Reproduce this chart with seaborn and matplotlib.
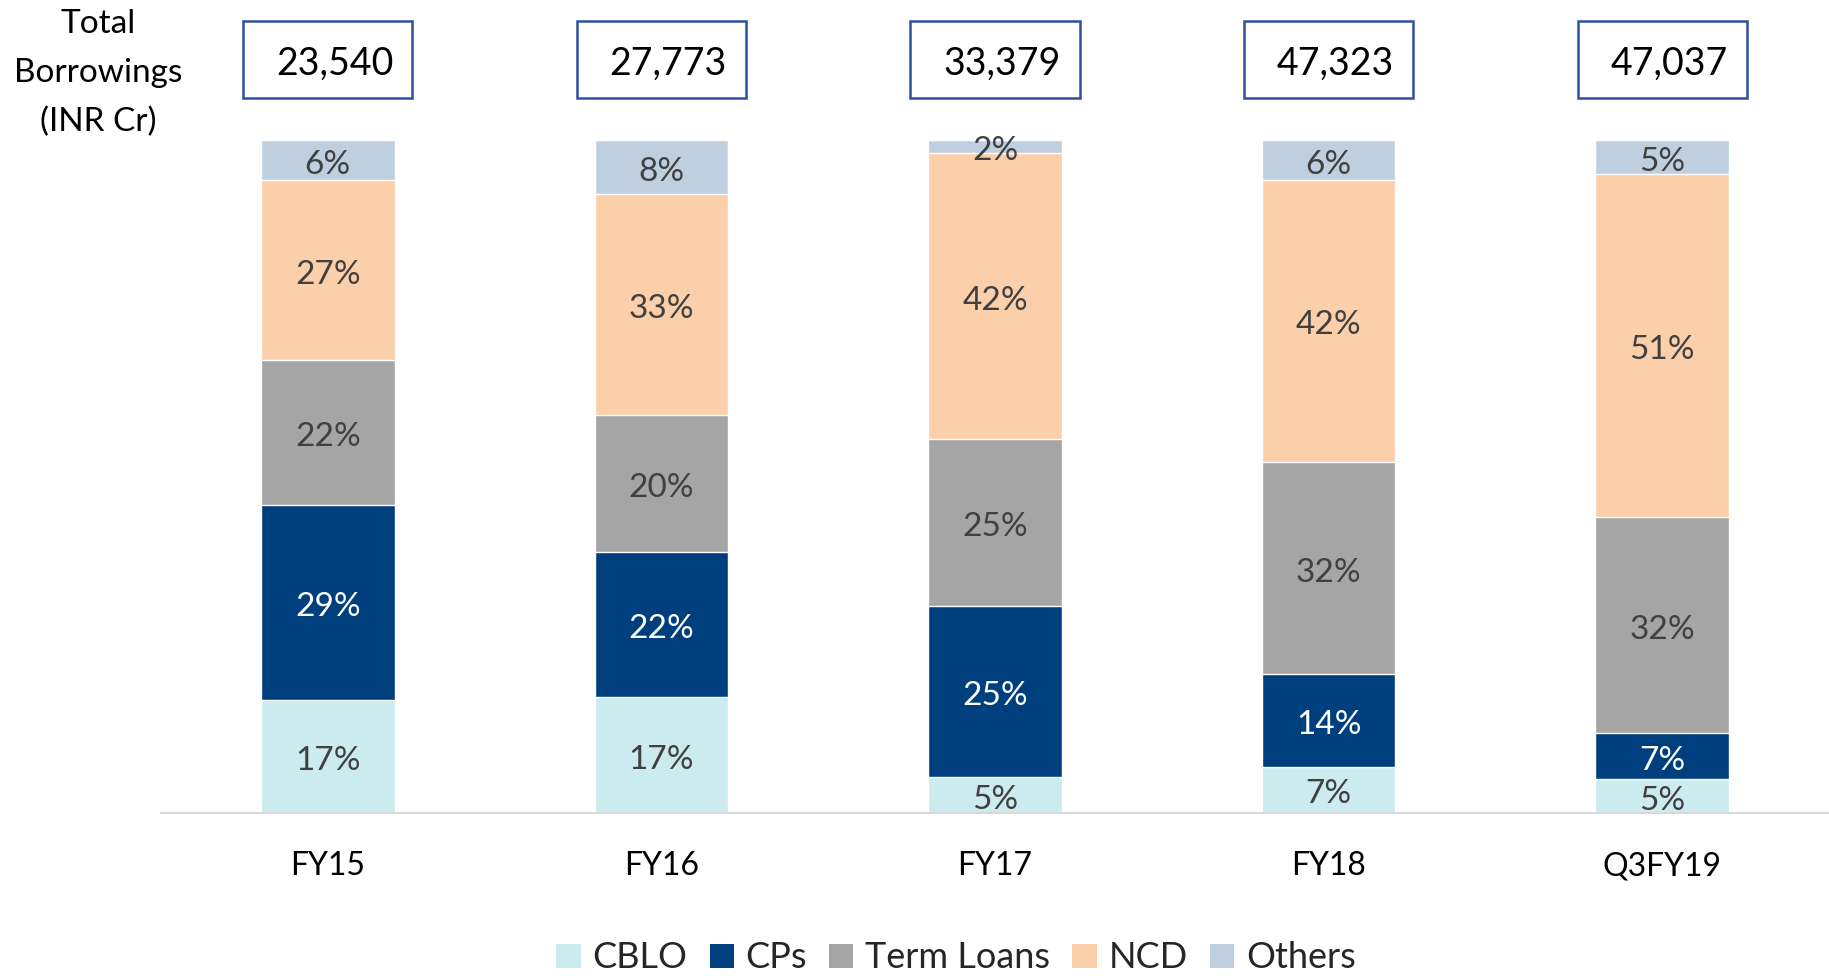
import numpy as np
import pandas as pd
import matplotlib
matplotlib.use("Agg")
import matplotlib.pyplot as plt
import seaborn as sns
from matplotlib.patches import Patch, Rectangle

years = ["FY15", "FY16", "FY17", "FY18", "Q3FY19"]
totals = [23540, 27773, 33379, 47323, 47037]

# share of total borrowings (%) per instrument, bottom to top
cblo = [16.8, 17.2, 5.4, 6.9, 5.0]
cps = [28.9, 21.6, 25.4, 13.7, 6.9]
term_loans = [21.6, 20.3, 24.8, 31.6, 32.1]
ncd = [26.8, 32.9, 42.4, 41.9, 51.0]
others = [5.9, 8.0, 2.0, 5.9, 5.0]

series_names = ["CBLO", "CPs", "Term Loans", "NCD", "Others"]
colors = ["#CCEBEE", "#003F7E", "#A5A5A5", "#FBCFAA", "#BFCFE0"]
label_colors = ["#404040", "white", "#404040", "#404040", "#404040"]

sns.set_style("white")
plt.rcParams["font.family"] = ["Lato", "DejaVu Sans"]

df = pd.DataFrame({"year": years, "CBLO": cblo, "CPs": cps,
                   "Term Loans": term_loans, "NCD": ncd, "Others": others})
shares = df[series_names].div(df[series_names].sum(axis=1), axis=0) * 100
cum = shares.cumsum(axis=1)

fig = plt.figure(figsize=(18.29, 9.76), dpi=100)
ax = fig.add_axes([161 / 1829, 163 / 976, 1668 / 1829, 673 / 976])

# stacked bars: draw cumulative heights from the top series down
for i in range(len(series_names) - 1, -1, -1):
    sns.barplot(x=df["year"], y=cum.iloc[:, i], color=colors[i], width=0.4,
                saturation=1, order=years, ax=ax)

for j in range(len(years)):
    base = 0
    for i, name in enumerate(series_names):
        v = shares.iloc[j, i]
        ax.text(j, base + v / 2 - 0.7, f"{df[name][j]:.0f}%", ha="center", va="center",
                fontsize=24, color=label_colors[i])
        base += v

# total borrowing boxes above the bars
for j, t in enumerate(totals):
    ax.add_patch(Rectangle((j - 0.2535, 106.2), 0.507, 11.5, fill=False,
                           edgecolor="#2E4F9E", lw=1.8, clip_on=False))
    ax.text(j + 0.02, 111.3, f"{t:,}", ha="center", va="center", fontsize=27,
            color="black", clip_on=False)

for k, line in enumerate(["Total", "Borrowings", "(INR Cr)"]):
    fig.text(98 / 1829, 1 - (24 + 49 * k) / 976, line, ha="center", va="center",
             fontsize=24, color="black")

ax.set_xlim(-0.5, 4.5)
ax.set_ylim(0, 100)
ax.set_xlabel("")
ax.set_ylabel("")
ax.set_yticks([])
ax.tick_params(axis="x", length=0, pad=27.5, labelsize=23, labelcolor="black")
for s in ["top", "left", "right"]:
    ax.spines[s].set_visible(False)
ax.spines["bottom"].set_color("#D9D9D9")
ax.spines["bottom"].set_linewidth(1.5)

handles = [Patch(facecolor=c, edgecolor="none", label=n) for n, c in zip(series_names, colors)]
fig.legend(handles=handles, loc="center", bbox_to_anchor=(956 / 1829, 1 - 958 / 976),
           ncol=5, frameon=False, fontsize=26, handlelength=0.67, handleheight=0.64,
           handletextpad=0.33, columnspacing=0.61, borderaxespad=0, borderpad=0)

fig.savefig("out.png", dpi=100)
